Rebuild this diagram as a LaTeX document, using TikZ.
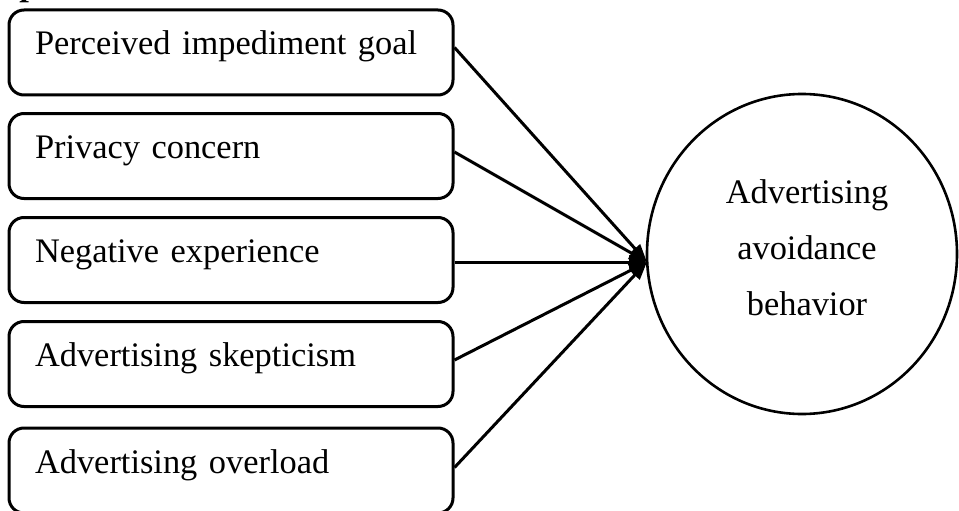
\documentclass[tikz,border=0pt]{standalone}
\usepackage{fontspec}
\setmainfont{Liberation Serif}
\usetikzlibrary{shapes.geometric,arrows.meta}
\begin{document}
\begin{tikzpicture}[x=1pt,y=-1pt,
  txt/.style={font=\fontsize{34.4}{56}\selectfont},
  factor/.style={txt,draw,line width=3pt,rounded corners=15pt,
    inner xsep=26pt,inner ysep=0pt,text width=392pt,align=left,
    minimum height=85pt,text height=24pt,text depth=19pt},
  outcome/.style={draw,ellipse,line width=2.6pt,minimum width=310pt,
    minimum height=320pt,inner sep=0pt},
  link/.style={line width=3pt,-{Triangle[length=18pt,width=13pt]}}]
\useasboundingbox (0,0) rectangle (959,511);
\node[txt,font=\fontsize{34.4}{40}\selectfont\bfseries\itshape,anchor=base west,inner sep=0pt] (cap) at (22,-4) {p};
\node[factor] (b1) at (231,52.5) {Perceived impediment goal};
\node[factor] (b2) at (231,156) {Privacy concern};
\node[factor] (b3) at (231,260) {Negative experience};
\node[factor] (b4) at (231,364) {Advertising skepticism};
\node[factor] (b5) at (231,470.5) {Advertising overload};
\node[outcome] (c) at (802,254) {};
\node[txt,align=center,inner sep=0pt,anchor=base] (ct) at (807,315) {Advertising\\avoidance\\behavior};
\coordinate (tip) at (647,262);
\draw[link] ([yshift=5pt]b1.east) -- (tip);
\draw[link] ([yshift=4pt]b2.east) -- (tip);
\draw[link] ([yshift=-2pt]b3.east) -- (tip);
\draw[link] ([yshift=4pt]b4.east) -- (tip);
\draw[link] ([yshift=3pt]b5.east) -- (tip);
\end{tikzpicture}
\end{document}
